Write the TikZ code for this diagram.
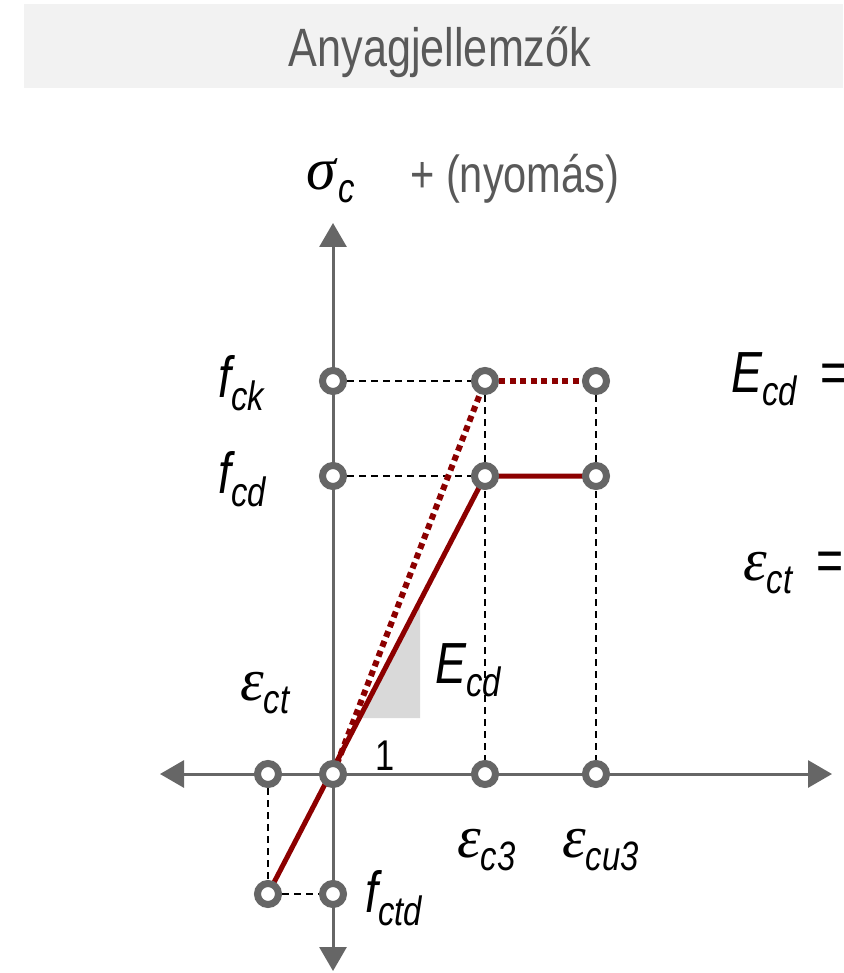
\documentclass[tikz,border=0pt]{standalone}
\usepackage{fontspec}
\setmainfont{Liberation Sans}
\newfontfamily\sansN[FakeStretch=0.8]{Liberation Sans}
\newfontfamily\serifG{Liberation Serif}
\usetikzlibrary{arrows.meta}
\pgfdeclarelayer{bg}
\pgfsetlayers{bg,main}
\definecolor{axgray}{RGB}{102,102,102}
\definecolor{txtgray}{RGB}{89,89,89}
\definecolor{bandgray}{RGB}{242,242,242}
\definecolor{dred}{RGB}{140,0,0}
\definecolor{trigray}{RGB}{217,217,217}
\newcommand\Mi{\sansN\itshape\fontsize{58}{58}\selectfont}
\newcommand\Si{\sansN\itshape\fontsize{41}{41}\selectfont}
\newcommand\Gi{\serifG\itshape\fontsize{60}{60}\selectfont}
\newcommand\Up{\sansN\upshape\fontsize{58}{58}\selectfont}
\newcommand\lsub[1]{\raisebox{-13pt}{\Si #1}}
\begin{document}
\begin{tikzpicture}[x=1pt,y=-1pt,
  pt/.style={circle,draw=axgray,line width=7pt,fill=white,minimum size=21pt,inner sep=0pt},
  axis/.style={draw=axgray,line width=3pt,-{Triangle[length=24pt,width=27pt]}},
  guide/.style={draw=black,line width=1.6pt,dash pattern=on 7pt off 5pt},
  curve/.style={draw=dred,line width=5pt},
  dotcurve/.style={draw=dred,line width=6pt,dash pattern=on 6pt off 4.5pt},
  lab/.style={inner sep=0pt,anchor=base west}]
\useasboundingbox (0,0) rectangle (843,973);
\clip (0,0) rectangle (843,973);
\fill[bandgray] (24,4) rectangle (843,88);
\node[inner sep=0pt,anchor=base] (title) at (440,67) {\sansN\fontsize{54}{54}\selectfont\color{txtgray}Anyagjellemzők};

% points
\node[pt] (fck) at (333,381) {};
\node[pt] (ck3) at (485,381) {};
\node[pt] (cku) at (596,381) {};
\node[pt] (fcd) at (333,476) {};
\node[pt] (cd3) at (485,476) {};
\node[pt] (cdu) at (596,476) {};
\node[pt] (xt) at (268,774) {};
\node[pt] (o) at (333,774) {};
\node[pt] (x3) at (485,774) {};
\node[pt] (xu) at (596,774) {};
\node[pt] (bl) at (268,894) {};
\node[pt] (ftd) at (333,894) {};

\coordinate (ytop) at (333,223);
\coordinate (ybot) at (333,971);
\coordinate (xl) at (160,774);
\coordinate (xr) at (832,774);

\begin{pgfonlayer}{bg}
  \fill[trigray] (359.4,718) -- (420,718) -- (420,601.2) -- cycle;
  \draw[guide] (fck) -- (ck3);
  \draw[guide] (fcd) -- (cd3);
  \draw[guide] (ck3) -- (x3);
  \draw[guide] (cku) -- (xu);
  \draw[guide] (xt) -- (bl);
  \draw[guide] (bl) -- (ftd);
  \draw[axis] (o.center) -- (ytop);
  \draw[axis] (o.center) -- (ybot);
  \draw[axis] (o.center) -- (xl);
  \draw[axis] (o.center) -- (xr);
  \draw[curve] (bl.center) -- (cd3.center) -- (cdu.center);
  \draw[dotcurve] (o.center) -- (ck3.center);
  \draw[dotcurve] (ck3) -- (cku);
\end{pgfonlayer}

% labels
\node[lab] (sig) at (306,190) {\Gi σ\kern3pt\lsub{c}};
\node[lab] (nyom) at (410,193) {\sansN\fontsize{52}{52}\selectfont\color{txtgray}+ (nyomás)};
\node[lab] (lfck) at (218,397) {\Mi f\lsub{ck}};
\node[lab] (lfcd) at (218,493) {\Mi f\lsub{cd}};
\node[lab] (lect) at (240,700) {\Gi ε\lsub{ct}};
\node[lab] (lEcd) at (435,683) {\Mi E\lsub{cd}};
\node[lab] (lone) at (375,770) {\sansN\upshape\fontsize{43}{43}\selectfont 1};
\node[lab] (lfctd) at (365,912) {\Mi f\lsub{ctd}};
\node[lab] (lec3) at (457,857) {\Gi ε\lsub{c3}};
\node[lab] (lecu3) at (562,857) {\Gi ε\lsub{cu3}};
\node[lab] (rEcd) at (731,392) {\Mi E\lsub{cd}\kern24pt\Up =};
\node[lab] (rect) at (743,580) {\Gi ε\lsub{ct}\kern24pt\Up =};
\end{tikzpicture}
\end{document}
